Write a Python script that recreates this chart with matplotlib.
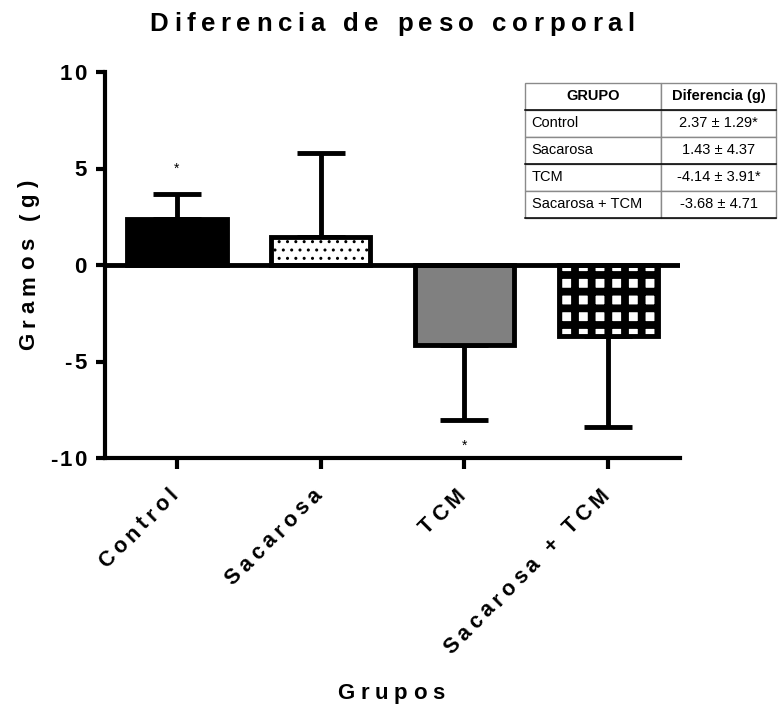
import numpy as np
import matplotlib
matplotlib.use('Agg')
import matplotlib.pyplot as plt
from matplotlib.font_manager import FontProperties
from matplotlib.transforms import ScaledTranslation, blended_transform_factory

# Datos: diferencia de peso corporal (media ± DE)
grupos = ['Control', 'Sacarosa', 'TCM', 'Sacarosa + TCM']
medias = [2.37, 1.43, -4.14, -3.68]
de = [1.29, 4.37, 3.91, 4.71]
signif = [True, False, True, False]
yticks = [10, 5, 0, -5, -10]

plt.rcParams['font.family'] = ['Liberation Sans', 'DejaVu Sans']

fig = plt.figure(figsize=(7.78, 7.15), dpi=100)
ax = fig.add_axes([0.135, 0.3594, 0.7391, 0.5399])
rend = fig.canvas.get_renderer()


def spaced(x, y, s, size, track, transform, rot=0, ha='center', dx=0, dy=0):
    # texto con espaciado entre letras (tracking en puntos)
    prop = FontProperties(family='Liberation Sans', weight='bold', size=size)
    base = rend.get_text_width_height_descent('||', prop, ismath=False)[0]
    ws = [(rend.get_text_width_height_descent('|' + c + '|', prop, ismath=False)[0] - base) * 72 / fig.dpi
          for c in s]
    total = sum(ws) + track * (len(s) - 1)
    pos = {'left': 0, 'center': -total / 2, 'right': -total}[ha]
    ca, sa = np.cos(np.radians(rot)), np.sin(np.radians(rot))
    sh = -0.358 * size
    for c, w in zip(s, ws):
        ox = dx + pos * ca - sh * sa
        oy = dy + pos * sa + sh * ca
        t = transform + ScaledTranslation(ox / 72, oy / 72, fig.dpi_scale_trans)
        fig.text(x, y, c, fontproperties=prop, rotation=rot, rotation_mode='anchor',
                 ha='left', va='baseline', transform=t)
        pos += w + track


# Barras
x = np.arange(len(grupos))
estilos = [dict(color='black', hatch=None, hw=1.0),
           dict(color='white', hatch='..', hw=1.0),
           dict(color='#808080', hatch=None, hw=1.0),
           dict(color='white', hatch='+', hw=5.6)]
for i, st in enumerate(estilos):
    with plt.rc_context({'hatch.linewidth': st['hw'], 'hatch.color': 'black'}):
        b = ax.bar(x[i], medias[i], width=0.69, color=st['color'], edgecolor='black',
                   linewidth=3.5, hatch=st['hatch'], zorder=2)
    if st['hatch'] is not None and hasattr(b[0], 'set_hatch_linewidth'):
        b[0].set_hatch_linewidth(st['hw'])

    if medias[i] >= 0:
        yerr = [[0], [de[i]]]
    else:
        yerr = [[de[i]], [0]]
    ax.errorbar(x[i], medias[i], yerr=yerr, fmt='none', ecolor='black',
                elinewidth=3.5, capsize=17, capthick=3.5, zorder=1)

    if signif[i]:
        ext = medias[i] + np.sign(medias[i]) * (de[i] + 1.3)
        ax.text(x[i], ext, '*', ha='center', va='center', fontsize=10)

ax.axhline(0, color='black', linewidth=3.5, zorder=3)

ax.set_xlim(-0.5, 3.5)
ax.set_ylim(-10, 10)
ax.set_yticks(yticks)
ax.set_xticks(x)
ax.set_yticklabels([])
ax.set_xticklabels([])
ax.tick_params(axis='y', width=3, length=6.5)
ax.tick_params(axis='x', width=3, length=8)
for s in ['top', 'right']:
    ax.spines[s].set_visible(False)
for s in ['left', 'bottom']:
    ax.spines[s].set_linewidth(3)

# Etiquetas de ejes con espaciado
ty = blended_transform_factory(ax.transAxes, ax.transData)
for v in yticks:
    spaced(0, v, str(v), 16, 1.5, ty, ha='right', dx=-13.5)

tx = blended_transform_factory(ax.transData, ax.transAxes)
for i, g in enumerate(grupos):
    spaced(x[i], 0, g, 15.5, 3.2, tx, rot=45, ha='right', dx=-2.5, dy=-23.5)

spaced(0.504, 0.970, 'Diferencia de peso corporal', 18.6, 4, fig.transFigure)
spaced(0.034, 0.629, 'Gramos (g)', 16, 4.1, fig.transFigure, rot=90)
spaced(0.5026, 0.034, 'Grupos', 16, 4.1, fig.transFigure)

# Tabla resumen
filas = [[g, f"{m:.2f} ± {d:.2f}" + ('*' if s else '')]
         for g, m, d, s in zip(grupos, medias, de, signif)]
tab_l, tab_r, tab_t, tab_b = 0.730, 1.167, 0.9715, 0.622
tabla = ax.table(cellText=filas, colLabels=['GRUPO', 'Diferencia (g)'],
                 colWidths=[0.237, 0.200], cellLoc='center',
                 bbox=[tab_l, tab_b, tab_r - tab_l, tab_t - tab_b], zorder=5)
tabla.auto_set_font_size(False)
for (r, c), cell in tabla.get_celld().items():
    cell.set_edgecolor('#8a8a8a')
    cell.set_linewidth(1)
    cell.get_text().set_fontsize(10.5)
    if r == 0:
        cell.get_text().set_fontweight('bold')
    elif c == 0:
        cell.get_text().set_ha('left')
        cell.PAD = 0.05
nfil = len(grupos) + 1
alto = (tab_t - tab_b) / nfil
for k in [1, 3, 5]:
    yl = tab_t - k * alto
    ax.plot([tab_l, tab_r], [yl, yl], color='black', linewidth=1.1,
            transform=ax.transAxes, clip_on=False, zorder=6)

fig.savefig('out.png', dpi=100)
